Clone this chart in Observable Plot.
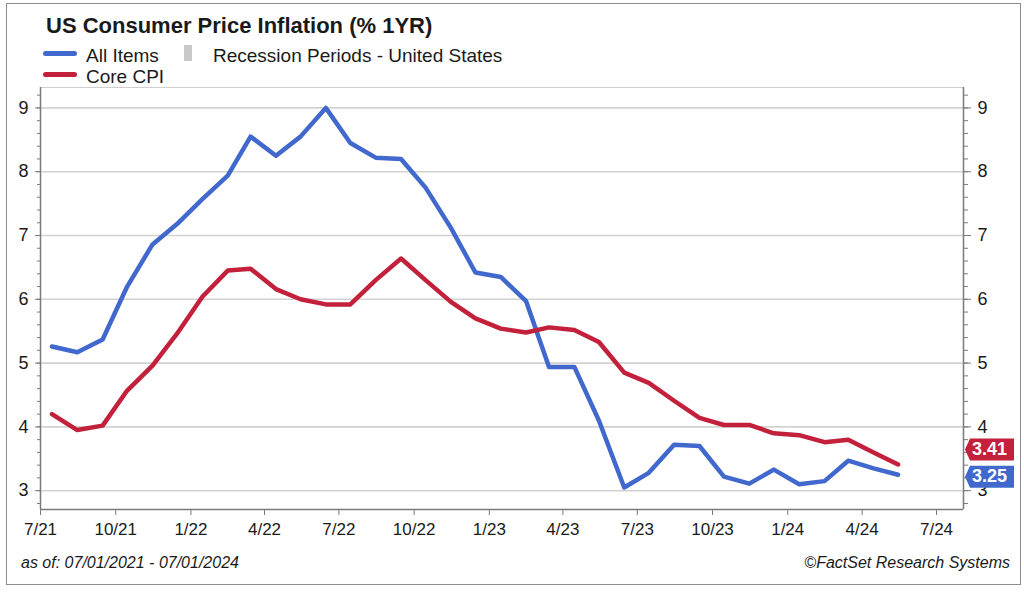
<!DOCTYPE html>
<html>
<head>
<meta charset="utf-8">
<script src="https://cdn.jsdelivr.net/npm/d3@7"></script>
<script src="https://cdn.jsdelivr.net/npm/@observablehq/plot@0.6"></script>
<style>
  html, body { margin: 0; padding: 0; background: #fff; }
  body { font-family: "Liberation Sans", Arial, Helvetica, sans-serif; color: #1a1a1a; }
  #wrap { position: relative; width: 1024px; height: 592px; overflow: hidden; background: #fff; }
  #chart { position: absolute; left: 0; top: 0; }
  #border { position: absolute; left: 6px; top: 3px; width: 1015px; height: 582px; border: 1.5px solid #8c8c8c; box-sizing: border-box; pointer-events: none; }
  .t { position: absolute; line-height: 1; white-space: nowrap; }
  .sw { position: absolute; height: 5px; border-radius: 3px; }
</style>
</head>
<body>
<div id="wrap">
  <div id="chart"></div>
  <div id="border"></div>
  <div class="t" id="title" style="left:46px; top:14.5px; font-size:22px; font-weight:bold;">US Consumer Price Inflation (% 1YR)</div>
  <div class="sw" style="left:43px; top:50.5px; width:34px; background:#4168cc;"></div>
  <div class="t" style="left:86px; top:46px; font-size:19px;">All Items</div>
  <div style="position:absolute; left:184px; top:45px; width:8px; height:16px; background:#c9c9c9;"></div>
  <div class="t" style="left:213px; top:46px; font-size:19px;">Recession Periods - United States</div>
  <div class="sw" style="left:43px; top:72px; width:34px; background:#c2203b;"></div>
  <div class="t" style="left:86px; top:67px; font-size:19px;">Core CPI</div>
  <div class="t" style="left:21px; top:554.5px; font-size:16px; font-style:italic;">as of: 07/01/2021 - 07/01/2024</div>
  <div class="t" style="right:14px; top:554.5px; font-size:16px; font-style:italic;">©FactSet Research Systems</div>
</div>
<script>
// ---- data ----
const months = [
  "2021-07","2021-08","2021-09","2021-10","2021-11","2021-12",
  "2022-01","2022-02","2022-03","2022-04","2022-05","2022-06",
  "2022-07","2022-08","2022-09","2022-10","2022-11","2022-12",
  "2023-01","2023-02","2023-03","2023-04","2023-05","2023-06",
  "2023-07","2023-08","2023-09","2023-10","2023-11","2023-12",
  "2024-01","2024-02","2024-03","2024-04","2024-05"
];
const allItems = [
  5.26, 5.17, 5.37, 6.20, 6.86, 7.18,
  7.57, 7.94, 8.55, 8.25, 8.55, 9.00,
  8.45, 8.22, 8.20, 7.75, 7.12, 6.42,
  6.35, 5.97, 4.94, 4.94, 4.10, 3.05,
  3.28, 3.72, 3.70, 3.22, 3.11, 3.33,
  3.10, 3.15, 3.47, 3.35, 3.25
];
const coreCPI = [
  4.20, 3.95, 4.02, 4.57, 4.96, 5.46,
  6.04, 6.45, 6.48, 6.16, 6.00, 5.92,
  5.92, 6.30, 6.64, 6.30, 5.96, 5.70,
  5.54, 5.48, 5.56, 5.52, 5.33, 4.85,
  4.69, 4.41, 4.14, 4.03, 4.03, 3.90,
  3.87, 3.76, 3.80, 3.60, 3.41
];
const xTickDates = [
  "2021-07-01","2021-10-01","2022-01-01","2022-04-01","2022-07-01","2022-10-01",
  "2023-01-01","2023-04-01","2023-07-01","2023-10-01","2024-01-01","2024-04-01","2024-07-01"
];
const xTickLabels = ["7/21","10/21","1/22","4/22","7/22","10/22","1/23","4/23","7/23","10/23","1/24","4/24","7/24"];
const yTicks = [3, 4, 5, 6, 7, 8, 9];
const xDomain = ["2021-07-01", "2024-08-03"];
const yDomain = [2.705, 9.32];

// ---- build ----
const BLUE = "#4168cc", RED = "#c2203b";
const parseMonth = d3.utcParse("%Y-%m");
const rows = months.map((m, i) => ({
  date: d3.utcDay.offset(parseMonth(m), 14),
  all: allItems[i],
  core: coreCPI[i]
}));
const xTicks = xTickDates.map(d => new Date(d));
const labelOf = new Map(xTicks.map((d, i) => [+d, xTickLabels[i]]));
const yMinor = d3.range(14, 47).map(i => i / 5);
const xDom = xDomain.map(d => new Date(d));

const tagSymbol = {
  draw(ctx) {
    ctx.moveTo(-24.5, 0);
    ctx.lineTo(-19.5, -11);
    ctx.lineTo(24.5, -11);
    ctx.lineTo(24.5, 11);
    ctx.lineTo(-19.5, 11);
    ctx.closePath();
  }
};
const lastAll = allItems[allItems.length - 1];
const lastCore = coreCPI[coreCPI.length - 1];

const axisCommon = { stroke: "#7a7a7a", fill: "#1a1a1a", label: null, fontSize: 18 };

const chart = Plot.plot({
  width: 1024,
  height: 592,
  marginTop: 87,
  marginLeft: 40,
  marginRight: 61,
  marginBottom: 83,
  style: { fontFamily: "Liberation Sans, Arial, Helvetica, sans-serif", background: "transparent", color: "#1a1a1a" },
  x: { type: "utc", domain: xDom, label: null },
  y: { domain: yDomain, label: null },
  marks: [
    Plot.gridY({ ticks: yTicks, stroke: "#d2d2d2", strokeOpacity: 1, strokeWidth: 1.6 }),
    Plot.frame({ stroke: "#cfcfcf" }),
    Plot.ruleX(xDom, { stroke: "#7a7a7a", strokeWidth: 1.5 }),
    Plot.ruleY([yDomain[0]], { stroke: "#7a7a7a", strokeWidth: 1.5 }),
    Plot.axisY({ ...axisCommon, anchor: "left", ticks: yMinor, tickSize: 3, tickFormat: () => "" }),
    Plot.axisY({ ...axisCommon, anchor: "left", ticks: yTicks, tickSize: 5, tickPadding: 7, tickFormat: d3.format("d") }),
    Plot.axisY({ ...axisCommon, anchor: "right", ticks: yMinor, tickSize: 4, tickFormat: () => "" }),
    Plot.axisY({ ...axisCommon, anchor: "right", ticks: yTicks, tickSize: 7, tickPadding: 7, tickFormat: d3.format("d") }),
    Plot.axisX({ ...axisCommon, anchor: "bottom", ticks: xTicks, tickSize: 6, tickPadding: 7, fontSize: 17,
      tickFormat: d => labelOf.get(+d) }),
    Plot.lineY(rows, { x: "date", y: "all", stroke: BLUE, strokeWidth: 4.5 }),
    Plot.lineY(rows, { x: "date", y: "core", stroke: RED, strokeWidth: 4.5 }),
    Plot.dot([lastCore], { y: d => d, frameAnchor: "right", dx: 26, dy: -15, symbol: tagSymbol, fill: RED, stroke: null }),
    Plot.text([lastCore], { y: d => d, text: d => d.toFixed(2), frameAnchor: "right", dx: 26, dy: -15,
      fill: "white", fontWeight: "bold", fontSize: 18, textAnchor: "middle" }),
    Plot.dot([lastAll], { y: d => d, frameAnchor: "right", dx: 26, dy: 2, symbol: tagSymbol, fill: BLUE, stroke: null }),
    Plot.text([lastAll], { y: d => d, text: d => d.toFixed(2), frameAnchor: "right", dx: 26, dy: 2,
      fill: "white", fontWeight: "bold", fontSize: 18, textAnchor: "middle" })
  ]
});
document.getElementById("chart").appendChild(chart);
</script>
</body>
</html>
